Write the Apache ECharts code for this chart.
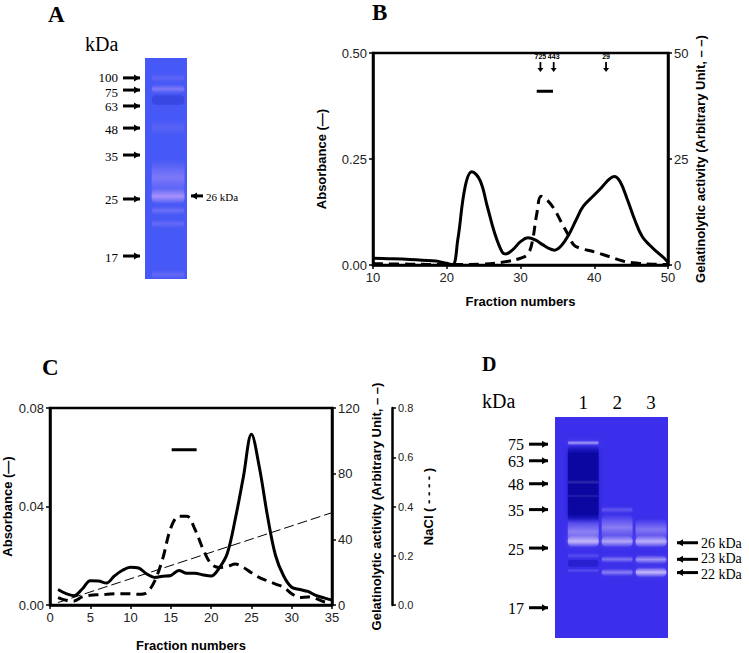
<!DOCTYPE html>
<html>
<head>
<meta charset="utf-8">
<script src="https://cdn.jsdelivr.net/npm/echarts@6/dist/echarts.min.js"></script>
<style>
html, body { margin: 0; padding: 0; background: #fff; }
#chart { width: 749px; height: 653px; }
</style>
</head>
<body>
<div id="chart"></div>
<script>
// ---- panel B : gel filtration ----
var bAbsFraction = [10, 12, 15, 18, 19, 20, 20.8, 21.5, 22.5, 23.4, 24.5, 25.5, 26.5, 27.5, 28, 29, 30, 31, 32, 33, 34, 34.6, 35.5, 36.5, 37.5, 38.5, 40, 41, 42, 42.7, 43.5, 44.5, 45.5, 46.5, 47.5, 48.5, 49.5, 50];
var bAbsValue = [0.016, 0.015, 0.013, 0.010, 0.008, 0.004, 0.001, 0.06, 0.185, 0.22, 0.20, 0.138, 0.075, 0.031, 0.026, 0.037, 0.055, 0.064, 0.059, 0.048, 0.038, 0.035, 0.045, 0.07, 0.105, 0.138, 0.165, 0.183, 0.202, 0.209, 0.197, 0.154, 0.106, 0.067, 0.047, 0.031, 0.016, 0.006];
var bActFraction = [10, 15, 20, 25, 28, 30, 31, 31.6, 32.2, 32.8, 33.5, 34.5, 35.5, 36.5, 37.2, 38, 40, 42, 44, 46, 48, 50];
var bActValue = [0.3, 0.2, 0.1, 0.2, 0.8, 1.6, 2.6, 5.5, 12, 16.2, 15.5, 13.4, 10.2, 7.0, 4.8, 4.0, 3.1, 2.0, 0.9, 0.4, 0.2, 0.1];
var bStdLabel = ['725', '443', '29'];
var bStdFraction = [32.7, 34.5, 41.6];
var bPoolFraction = [32.2, 34.4];
var bPoolLevel = 0.41;

// ---- panel C : ion exchange ----
var cFraction = [1, 2, 3, 4, 5, 6, 7, 8, 9, 10, 11, 12, 13, 14, 15, 16, 17, 18, 19, 20, 21, 22, 23, 24, 25, 26, 27, 28, 29, 30, 31, 32, 33, 34, 35];
var cAbsValue = [0.0063, 0.0046, 0.0038, 0.0065, 0.0098, 0.0097, 0.0089, 0.0118, 0.0141, 0.0153, 0.0150, 0.0126, 0.0112, 0.0117, 0.0120, 0.0140, 0.0129, 0.0129, 0.0122, 0.0118, 0.0150, 0.0209, 0.0350, 0.052, 0.0693, 0.0556, 0.036, 0.020, 0.0118, 0.0072, 0.0063, 0.0055, 0.0039, 0.0029, 0.0020];
var cActValue = [4.5, 2.9, 2.5, 4.9, 5.9, 6.3, 6.5, 6.8, 6.9, 6.8, 6.5, 7.5, 14.7, 28.4, 47, 54, 54, 46, 34, 25, 22.9, 23.5, 24.9, 22.9, 19.6, 16.7, 14.7, 12.7, 10.8, 6.9, 4.5, 4.9, 3.9, 2.0, 1.0];
var cNaclFraction = [1, 35];
var cNaclValue = [0.01, 0.375];
var cPoolFraction = [15.1, 18.2];
var cPoolLevel = 0.063;

// ---- gels (migration 0 = top of gel, 100 = bottom) ----
var aMarkerLabel = ['100', '75', '63', '48', '35', '25', '17'];
var aMarkerPos = [9.0, 14.5, 21.7, 31.7, 43.9, 63.8, 89.6];
var aSizeLabel = ['26 kDa'];
var aSizePos = [62.4];
// [lane, top, bottom, intensity] ; negative = darker than gel
var aBands = [
  [0.55, 7, 11, 0.12], [0.55, 12, 16, 0.3], [0.55, 16.5, 21.5, -0.18],
  [0.55, 28, 35, 0.1], [0.55, 46, 62, 0.28], [0.55, 59, 66, 0.5],
  [0.55, 67, 71, 0.2], [0.55, 73, 77, 0.16], [0.55, 96, 100, 0.15]
];
var dMarkerLabel = ['75', '63', '48', '35', '25', '17'];
var dMarkerPos = [12.3, 19.8, 30.2, 41.9, 59.3, 86.3];
var dSizeLabel = ['26 kDa', '23 kDa', '22 kDa'];
var dSizePos = [56.9, 64.4, 70.4];
var dLane = [0.75, 1.65, 2.55];
var dLaneLabel = ['1', '2', '3'];
var dBands = [
  [0.75, 12.5, 48, -0.8], [0.75, 10.6, 12.8, 0.55], [0.75, 28.5, 30.5, 0.15], [0.75, 35, 36.5, 0.12],
  [0.75, 46, 58, 0.4], [0.75, 53.5, 59, 0.65], [0.75, 61.5, 64, 0.15], [0.75, 64.5, 68, -0.3], [0.75, 68.5, 70.5, 0.15],
  [1.65, 40.5, 43.5, 0.2], [1.65, 44, 56, 0.38], [1.65, 53.5, 59, 0.6], [1.65, 62.8, 66, 0.35], [1.65, 68.6, 72, 0.4],
  [2.55, 46, 56, 0.35], [2.55, 53.5, 59, 0.65], [2.55, 62.5, 66.5, 0.5], [2.55, 68, 72.5, 0.7]
];

var SANS = '"Liberation Sans", Arial, sans-serif';
var SERIF = '"Liberation Serif", "Times New Roman", serif';

function pairs(xs, ys) {
  return xs.map(function (x, i) { return [x, ys[i]]; });
}

function bandItem(laneWidth, light) {
  return function (params, api) {
    var lane = api.value(0), k = api.value(3);
    var p0 = api.coord([lane - laneWidth / 2, api.value(1)]);
    var p1 = api.coord([lane + laneWidth / 2, api.value(2)]);
    var rgb = k >= 0 ? light : '8,6,150';
    var a = Math.abs(k);
    var stops = k >= 0
      ? [{ offset: 0, color: 'rgba(' + rgb + ',0)' }, { offset: 0.5, color: 'rgba(' + rgb + ',' + a + ')' }, { offset: 1, color: 'rgba(' + rgb + ',0)' }]
      : [{ offset: 0, color: 'rgba(' + rgb + ',0)' }, { offset: 0.12, color: 'rgba(' + rgb + ',' + a + ')' }, { offset: 0.88, color: 'rgba(' + rgb + ',' + a + ')' }, { offset: 1, color: 'rgba(' + rgb + ',0)' }];
    return {
      type: 'rect',
      shape: { x: p0[0], y: p0[1], width: p1[0] - p0[0], height: p1[1] - p0[1], r: 5 },
      style: { fill: new echarts.graphic.LinearGradient(0, 0, 0, 1, stops),
        shadowBlur: 5, shadowColor: 'rgba(' + rgb + ',' + (a * 0.6) + ')' }
    };
  };
}

// arrows pointing at the gel from the left (markers) or the right (sizes);
// labels closer than minGap px are pushed slightly apart
function arrowItem(labels, positions, side, gap, len, fontSize, minGap) {
  return function (params, api) {
    var i = params.dataIndex;
    var p = api.coord([api.value(0), api.value(1)]);
    var unit = Math.abs(api.size([0, 1])[1]);
    var y = p[1], x0, x1, head, tx, align, shift = 0;
    if (i > 0) shift += Math.max(0, minGap - (positions[i] - positions[i - 1]) * unit) / 2;
    if (i < positions.length - 1) shift -= Math.max(0, minGap - (positions[i + 1] - positions[i]) * unit) / 2;
    if (side === 'left') {
      x1 = p[0] - gap; x0 = x1 - len;
      head = [[x1 - 6, y - 3.5], [x1, y], [x1 - 6, y + 3.5]];
      tx = x0 - 5; align = 'right';
    } else {
      x0 = p[0] + gap; x1 = x0 + len;
      head = [[x0 + 6, y - 3.5], [x0, y], [x0 + 6, y + 3.5]];
      tx = x1 + 3; align = 'left';
    }
    return {
      type: 'group',
      children: [
        { type: 'line', shape: { x1: x0, y1: y, x2: x1, y2: y }, style: { stroke: '#000', lineWidth: 3 } },
        { type: 'polygon', shape: { points: head }, style: { fill: '#000' } },
        { type: 'text', style: { text: labels[i], x: tx, y: y + 1 + shift, align: align, verticalAlign: 'middle',
          fontSize: fontSize, fontFamily: SERIF, fill: '#000' } }
      ]
    };
  };
}

function valueAxis(gridIndex, min, max, interval, digits, extra) {
  var ax = {
    type: 'value', gridIndex: gridIndex, min: min, max: max, interval: interval,
    axisLine: { show: true, lineStyle: { color: '#000', width: 2.5 } },
    axisTick: { show: true, length: 4, lineStyle: { color: '#000', width: 1.5 } },
    axisLabel: { color: '#222', fontSize: 13, fontFamily: SANS, margin: 6,
      formatter: function (v) { return v.toFixed(digits); } },
    splitLine: { show: false },
    nameTextStyle: { color: '#000', fontSize: 13, fontWeight: 'bold', fontFamily: SANS }
  };
  for (var k in extra) ax[k] = extra[k];
  return ax;
}

function hiddenAxis(gridIndex, min, max, inverse) {
  return { type: 'value', gridIndex: gridIndex, min: min, max: max, inverse: !!inverse, show: false };
}

var chart = echarts.init(document.getElementById('chart'), null, { renderer: 'svg' });

var option = {
  backgroundColor: '#fff',
  animation: false,
  grid: [
    { left: 373, top: 53, width: 295, height: 212, show: true, borderColor: '#000', borderWidth: 2.5, backgroundColor: '#fff' },
    { left: 50, top: 408, width: 282, height: 204, show: true, borderColor: '#000', borderWidth: 2.5, backgroundColor: '#fff' },
    { left: 145, top: 58, width: 42, height: 221, show: true, borderWidth: 0, backgroundColor: '#4658f5' },
    { left: 555, top: 417, width: 113, height: 221, show: true, borderWidth: 0, backgroundColor: '#3b2feb' }
  ],
  xAxis: [
    valueAxis(0, 10, 50, 10, 0, { name: 'Fraction numbers', nameLocation: 'middle', nameGap: 30 }),
    valueAxis(1, 0, 35, 5, 0, { name: 'Fraction numbers', nameLocation: 'middle', nameGap: 34 }),
    hiddenAxis(2, 0, 1),
    hiddenAxis(3, 0, 3)
  ],
  yAxis: [
    valueAxis(0, 0, 0.5, 0.25, 2, { name: 'Absorbance (\u2014)', nameLocation: 'middle', nameGap: 45 }),
    valueAxis(0, 0, 50, 25, 0, { position: 'right', name: 'Gelatinolytic activity (Arbitrary Unit, \u2013 \u2013)', nameLocation: 'middle', nameGap: 26, nameRotate: 90 }),
    valueAxis(1, 0, 0.08, 0.04, 2, { name: 'Absorbance (\u2014)', nameLocation: 'middle', nameGap: 36 }),
    valueAxis(1, 0, 120, 40, 0, { position: 'right', name: 'Gelatinolytic activity (Arbitrary Unit, \u2013 \u2013)', nameLocation: 'middle', nameGap: 38, nameRotate: 90 }),
    valueAxis(1, 0, 0.8, 0.2, 1, { position: 'right', offset: 60, name: 'NaCl ( - - - - )', nameLocation: 'middle', nameGap: 30, nameRotate: 90,
      axisLabel: { color: '#222', fontSize: 11, fontFamily: SANS, margin: 6, formatter: function (v) { return v.toFixed(1); } } }),
    hiddenAxis(2, 0, 100, true),
    hiddenAxis(3, 0, 100, true)
  ],
  series: [
    // panel B
    { type: 'line', xAxisIndex: 0, yAxisIndex: 0, data: pairs(bAbsFraction, bAbsValue), smooth: 0.4,
      symbol: 'none', lineStyle: { color: '#000', width: 3 } },
    { type: 'line', xAxisIndex: 0, yAxisIndex: 1, data: pairs(bActFraction, bActValue), smooth: 0.4,
      symbol: 'none', lineStyle: { color: '#000', width: 3, type: [10, 6] } },
    { type: 'line', xAxisIndex: 0, yAxisIndex: 0, data: bPoolFraction.map(function (x) { return [x, bPoolLevel]; }),
      symbol: 'none', lineStyle: { color: '#000', width: 3 } },
    { type: 'custom', xAxisIndex: 0, yAxisIndex: 0, data: bStdFraction.map(function (x) { return [x, 0.455]; }),
      renderItem: function (params, api) {
        var p = api.coord([api.value(0), api.value(1)]);
        return { type: 'group', children: [
          { type: 'line', shape: { x1: p[0], y1: p[1] - 10, x2: p[0], y2: p[1] - 3 }, style: { stroke: '#000', lineWidth: 1.8 } },
          { type: 'polygon', shape: { points: [[p[0] - 3, p[1] - 4], [p[0] + 3, p[1] - 4], [p[0], p[1]]] }, style: { fill: '#000' } },
          { type: 'text', style: { text: bStdLabel[params.dataIndex], x: p[0], y: p[1] - 12, align: 'center', verticalAlign: 'bottom',
            fontSize: 7, fontWeight: 'bold', fontFamily: SANS, fill: '#000' } }
        ] };
      } },
    // panel C
    { type: 'line', xAxisIndex: 1, yAxisIndex: 2, data: pairs(cFraction, cAbsValue), smooth: 0.35,
      symbol: 'none', lineStyle: { color: '#000', width: 3 } },
    { type: 'line', xAxisIndex: 1, yAxisIndex: 3, data: pairs(cFraction, cActValue), smooth: 0.35,
      symbol: 'none', lineStyle: { color: '#000', width: 3, type: [10, 6] } },
    { type: 'line', xAxisIndex: 1, yAxisIndex: 4, data: pairs(cNaclFraction, cNaclValue),
      symbol: 'none', lineStyle: { color: '#000', width: 1, type: [10, 4] } },
    { type: 'line', xAxisIndex: 1, yAxisIndex: 2, data: cPoolFraction.map(function (x) { return [x, cPoolLevel]; }),
      symbol: 'none', lineStyle: { color: '#000', width: 3 } },
    // gel A
    { type: 'custom', xAxisIndex: 2, yAxisIndex: 5, data: aBands, renderItem: bandItem(0.78, '245,190,255') },
    { type: 'custom', xAxisIndex: 2, yAxisIndex: 5, data: aMarkerPos.map(function (v) { return [0, v]; }),
      renderItem: arrowItem(aMarkerLabel, aMarkerPos, 'left', 5, 17, 13, 15) },
    { type: 'custom', xAxisIndex: 2, yAxisIndex: 5, data: aSizePos.map(function (v) { return [1, v]; }),
      renderItem: arrowItem(aSizeLabel, aSizePos, 'right', 4, 12, 11, 0) },
    // gel D
    { type: 'custom', xAxisIndex: 3, yAxisIndex: 6, data: dBands, renderItem: bandItem(0.82, '240,228,255') },
    { type: 'custom', xAxisIndex: 3, yAxisIndex: 6, data: dMarkerPos.map(function (v) { return [0, v]; }),
      renderItem: arrowItem(dMarkerLabel, dMarkerPos, 'left', 7, 19, 16, 17) },
    { type: 'custom', xAxisIndex: 3, yAxisIndex: 6, data: dSizePos.map(function (v) { return [3, v]; }),
      renderItem: arrowItem(dSizeLabel, dSizePos, 'right', 9, 21, 14, 16) },
    { type: 'custom', xAxisIndex: 3, yAxisIndex: 6, data: dLane.map(function (x) { return [x, 0]; }),
      renderItem: function (params, api) {
        var p = api.coord([api.value(0), api.value(1)]);
        return { type: 'text', style: { text: dLaneLabel[params.dataIndex], x: p[0], y: p[1] - 15, align: 'center', verticalAlign: 'middle',
          fontSize: 19, fontFamily: SERIF, fill: '#000' } };
      } }
  ],
  graphic: [
    { type: 'text', left: 48, top: 3, style: { text: 'A', font: 'bold 23px ' + SERIF, fill: '#000' } },
    { type: 'text', left: 85, top: 34, style: { text: 'kDa', font: '20px ' + SERIF, fill: '#000' } },
    { type: 'text', left: 372, top: 1, style: { text: 'B', font: 'bold 23px ' + SERIF, fill: '#000' } },
    { type: 'text', left: 42, top: 356, style: { text: 'C', font: 'bold 23px ' + SERIF, fill: '#000' } },
    { type: 'text', left: 482, top: 354, style: { text: 'D', font: 'bold 20px ' + SERIF, fill: '#000' } },
    { type: 'text', left: 482, top: 391, style: { text: 'kDa', font: '20px ' + SERIF, fill: '#000' } }
  ]
};

chart.setOption(option);
</script>
</body>
</html>
